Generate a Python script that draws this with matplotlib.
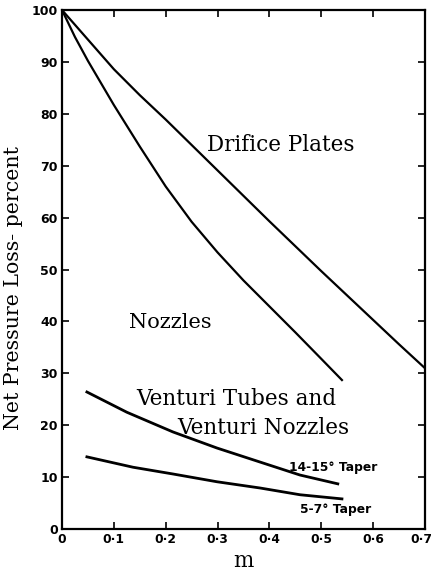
import matplotlib
matplotlib.use("Agg")
import matplotlib.pyplot as plt
from matplotlib.transforms import ScaledTranslation

orifice_m = [0.0, 0.05, 0.1, 0.15, 0.2, 0.25, 0.3, 0.35, 0.4, 0.45, 0.5, 0.55, 0.6, 0.65, 0.7]
orifice_loss = [100, 94.3, 88.6, 83.6, 78.9, 74.0, 69.1, 64.2, 59.3, 54.5, 49.7, 45.0, 40.3, 35.6, 31.0]

nozzle_m = [0.0, 0.025, 0.05, 0.1, 0.15, 0.2, 0.25, 0.3, 0.35, 0.4, 0.45, 0.5, 0.54]
nozzle_loss = [100, 94.8, 90.2, 81.7, 73.7, 66.0, 59.2, 53.3, 47.9, 42.9, 37.9, 32.8, 28.7]

venturi14_m = [0.048, 0.125, 0.214, 0.299, 0.382, 0.459, 0.532]
venturi14_loss = [26.4, 22.5, 18.7, 15.6, 12.9, 10.4, 8.7]

venturi5_m = [0.048, 0.137, 0.214, 0.299, 0.382, 0.459, 0.54]
venturi5_loss = [13.9, 11.9, 10.6, 9.1, 7.9, 6.6, 5.8]

xticks = [0, 0.1, 0.2, 0.3, 0.4, 0.5, 0.6, 0.7]
xticklabels = ["0", "0·1", "0·2", "0·3", "0·4", "0·5", "0·6", "0·7"]
yticks = [0, 10, 20, 30, 40, 50, 60, 70, 80, 90, 100]

fig = plt.figure(figsize=(4.34, 5.73), dpi=100)
ax = fig.add_axes([0.1429, 0.0768, 0.8361, 0.9057])

ax.plot(orifice_m, orifice_loss, color="black", lw=1.6, solid_joinstyle="round")
ax.plot(nozzle_m, nozzle_loss, color="black", lw=1.6, solid_joinstyle="round")
ax.plot(venturi14_m, venturi14_loss, color="black", lw=2.0, solid_joinstyle="round")
ax.plot(venturi5_m, venturi5_loss, color="black", lw=2.0, solid_joinstyle="round")

ax.set_xlim(0, 0.7)
ax.set_ylim(0, 100)
ax.set_xticks(xticks)
ax.set_xticklabels(xticklabels, fontsize=8.8, fontweight="bold")
ax.set_yticks(yticks)
ax.set_yticklabels([str(v) for v in yticks], fontsize=9, fontweight="bold")
ax.tick_params(direction="in", length=5, width=1.2, top=True, right=True, pad=3)
for s in ax.spines.values():
    s.set_linewidth(1.6)

last = ax.get_xticklabels()[-1]
last.set_horizontalalignment("right")
last.set_transform(last.get_transform() + ScaledTranslation(7 / 100, 0, fig.dpi_scale_trans))

serif = "DejaVu Serif"
fs = 15.5
ax.text(0.422, 74, "Drifice Plates", family=serif, fontsize=fs, ha="center", va="center")
ax.text(0.208, 39.7, "Nozzles", family=serif, fontsize=15, ha="center", va="center")
ax.text(0.337, 25.0, "Venturi Tubes and", family=serif, fontsize=fs, ha="center", va="center")
ax.text(0.388, 19.5, "Venturi Nozzles", family=serif, fontsize=fs, ha="center", va="center")
ax.text(0.524, 11.8, "14-15° Taper", fontsize=8.8, fontweight="bold", ha="center", va="center")
ax.text(0.527, 3.7, "5-7° Taper", fontsize=8.8, fontweight="bold", ha="center", va="center")

ax.set_ylabel("Net Pressure Loss- percent", family=serif, fontsize=14.8)
ax.yaxis.set_label_coords(-0.108, 0.464)
ax.set_xlabel("m", family=serif, fontsize=fs, labelpad=3)

fig.savefig("out.png", dpi=100)
